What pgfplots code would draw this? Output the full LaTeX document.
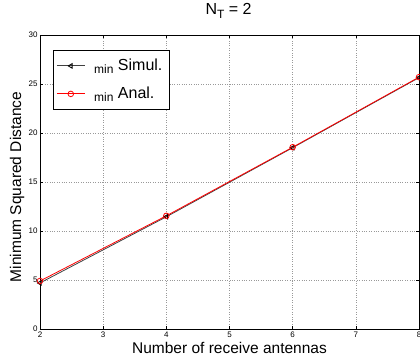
\documentclass[border=0pt]{standalone}
\usepackage{pgfplots}
\pgfplotsset{compat=1.18}
\usepackage{fontspec}
\setmainfont{Liberation Sans}
\begin{document}
\begin{tikzpicture}
\useasboundingbox (-40pt,-28pt) rectangle (380pt,329pt);
\begin{axis}[
  at={(0,0)}, anchor=south west,
  scale only axis,
  width=379pt, height=294pt,
  xmin=2, xmax=8, ymin=0, ymax=30,
  xtick={2,3,...,8}, ytick={0,5,...,30},
  tick align=inside,
  major tick length=3pt,
  tick style={black, line width=0.5pt},
  axis line style={black, line width=0.8pt},
  grid=major,
  grid style={dotted, gray!80, line width=0.5pt},
  ticklabel style={font=\fontsize{8}{9}\selectfont},
  xticklabel style={yshift=1pt},
  yticklabel style={xshift=1pt},
  /pgf/number format/assume math mode=true,
  xlabel={Number of receive antennas},
  ylabel={Minimum Squared Distance},
  label style={font=\fontsize{15.5}{18}\selectfont},
  xlabel style={at={(rel axis cs:0.5,-0.085)}, anchor=base},
  ylabel style={at={(rel axis cs:-0.0501,0.483)}, anchor=base, rotate=0},
  title={N\raisebox{-4.5pt}{\fontsize{12}{13}\selectfont T} = 2},
  title style={font=\fontsize{16}{18}\selectfont, at={(rel axis cs:0.4975,1.051)}, anchor=base},
  legend style={at={(rel axis cs:0.0343,0.949)}, anchor=north west, font=\fontsize{16}{18}\selectfont, draw=black, line width=0.8pt, row sep=9pt, inner xsep=3pt, inner ysep=6pt,
    nodes={inner sep=2pt, text height=12pt, text depth=3pt}},
  legend image code/.code={\draw[mark repeat=2,mark phase=2,#1] plot coordinates {(0pt,0pt) (14pt,0pt) (28pt,0pt)};},
  legend cell align=left,
  clip=false,
]
\addplot[black!75, line width=0.8pt, mark=triangle, mark size=2.6pt, mark options={rotate=90, solid, black}] coordinates {(2,4.7) (4,11.45) (6,18.5) (8,25.65)};
\addlegendentry{\hspace*{7pt}\raisebox{-3.5pt}{\fontsize{12}{13}\selectfont min} Simul.\hspace*{2pt}}
\addplot[red, line width=0.8pt, mark=o, mark size=2.8pt, mark options={solid}] coordinates {(2,4.9) (4,11.55) (6,18.55) (8,25.7)};
\addlegendentry{\hspace*{7pt}\raisebox{-3.5pt}{\fontsize{12}{13}\selectfont min} Anal.}
\end{axis}
\end{tikzpicture}
\end{document}
